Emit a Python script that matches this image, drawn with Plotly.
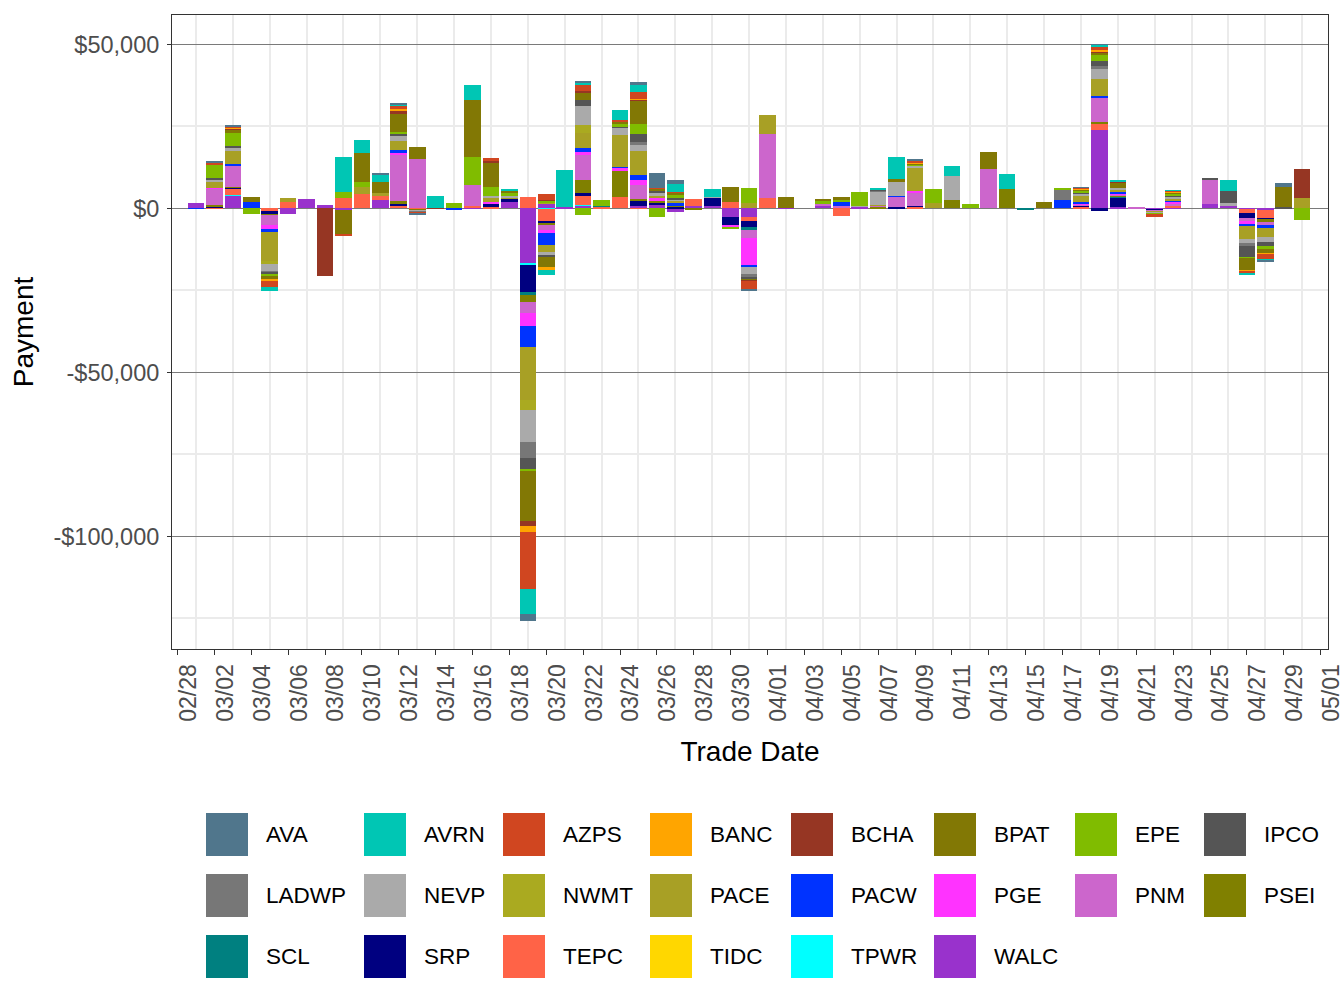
import pandas as pd
import plotly.graph_objects as go

# ---------------- data (payment by trade date, US$) ----------------
SERIES = ["AVA", "AVRN", "AZPS", "BANC", "BCHA", "BPAT", "EPE", "IPCO",
          "LADWP", "NEVP", "NWMT", "PACE", "PACW", "PGE", "PNM", "PSEI",
          "SCL", "SRP", "TEPC", "TIDC", "TPWR", "WALC"]

COLORS = {
    "AVA": "#50768C", "AVRN": "#00C6B4", "AZPS": "#D04620", "BANC": "#FFA500",
    "BCHA": "#963623", "BPAT": "#827805", "EPE": "#80BC00", "IPCO": "#555555",
    "LADWP": "#777777", "NEVP": "#AAAAAA", "NWMT": "#AAAA20", "PACE": "#A8A025",
    "PACW": "#0033FF", "PGE": "#FF33FF", "PNM": "#CC66CC", "PSEI": "#808000",
    "SCL": "#008080", "SRP": "#000080", "TEPC": "#FF6347", "TIDC": "#FFD700",
    "TPWR": "#00FFFF", "WALC": "#9932CC",
}

YEAR = 2021
TRADE_DATES = [d.strftime("%m/%d") for d in pd.date_range(f"{YEAR}-03-01", f"{YEAR}-04-30")]

WALC = {"03/01": 1700, "03/03": 3760, "03/06": -1700, "03/07": 2850, "03/08": 1000,
        "03/09": -600, "03/11": 2540, "03/16": 300, "03/18": 1900, "03/19": -16760,
        "03/20": 1400, "03/21": 300, "03/22": 800, "03/25": 800, "03/26": 1000,
        "03/27": -1000, "03/28": 700, "03/29": 700, "03/30": -2540, "03/31": -2640,
        "04/02": 200, "04/04": 700, "04/06": 400, "04/19": 23880, "04/20": 500,
        "04/22": -300, "04/23": 300, "04/25": 1320, "04/26": 700, "04/27": -200,
        "04/28": -500}
TPWR = {"03/03": 300, "03/05": -200, "03/19": -400, "03/20": -200, "03/22": 200,
        "04/04": 200}
TIDC = {}
TEPC = {"03/02": 300, "03/03": 1830, "03/05": -500, "03/06": 2000, "03/09": 3050,
        "03/10": 4370, "03/11": 1420, "03/12": 700, "03/13": -300, "03/16": 300,
        "03/17": 500, "03/19": 3450, "03/20": -3560, "03/22": 2740, "03/23": 400,
        "03/24": 3450, "03/25": -200, "03/28": 2130, "03/30": 2030, "03/31": -1220,
        "04/01": 3250, "04/05": -2340, "04/09": 500, "04/18": 500, "04/19": 1830,
        "04/23": 400, "04/27": -1220, "04/28": -2640}
SRP = {"03/02": 300, "03/03": 400, "03/05": -1100, "03/12": 900, "03/17": 800,
       "03/18": 800, "03/19": -8640, "03/20": -800, "03/22": 800, "03/25": 1700,
       "03/26": 800, "03/27": 400, "03/29": 2540, "03/30": -2840, "03/31": -2130,
       "04/08": 400, "04/09": 300, "04/18": 300, "04/19": -700, "04/20": 2640,
       "04/22": -300, "04/23": 300, "04/26": 300, "04/27": -1520, "04/28": -400}
SCL = {"03/13": -200, "03/19": -600, "03/23": 300, "03/31": -600, "04/15": -500,
       "04/20": 600}
PSEI = {"03/02": 300, "03/03": 300, "03/05": -200, "03/12": 600, "03/13": -300,
        "03/19": -2030, "03/20": -600, "03/22": 4060, "03/24": 7920, "03/25": 400,
        "03/26": 500, "03/27": 400, "03/28": -400, "04/07": 500, "04/11": 2540,
        "04/14": 5890, "04/19": 600, "04/20": 300, "04/28": -600}
PNM = {"03/02": 5100, "03/03": 6600, "03/05": -3000, "03/12": 14020, "03/13": 15040,
       "03/16": 6400, "03/19": -3560, "03/20": -1730, "03/22": 7620, "03/25": 4160,
       "03/31": -2340, "04/01": 19400, "04/04": 300, "04/05": 700, "04/07": 300,
       "04/08": 3050, "04/09": 4060, "04/13": 11990, "04/18": 300, "04/19": 7320,
       "04/20": 300, "04/21": 400, "04/22": -300, "04/23": 300, "04/25": 7320,
       "04/27": -800, "04/28": -1120}
PGE = {"03/02": 300, "03/05": -1200, "03/12": 900, "03/17": 700, "03/19": -3860,
       "03/20": -500, "03/22": 900, "03/24": 1020, "03/25": 1520, "03/26": 900,
       "03/30": -500, "03/31": -8640, "04/09": 400, "04/18": 400, "04/19": 300,
       "04/20": 200, "04/23": 800, "04/27": -900}
PACW = {"03/01": -200, "03/03": 400, "03/04": 1930, "03/05": -900, "03/12": 600,
        "03/15": -500, "03/19": -6400, "03/20": -3760, "03/22": 1220, "03/24": 300,
        "03/25": 1520, "03/27": 1000, "03/31": -300, "04/05": 1220, "04/08": 300,
        "04/17": 2540, "04/18": 400, "04/19": 200, "04/20": 300, "04/23": 300,
        "04/27": -800, "04/28": -600}
PACE = {"03/02": 1700, "03/03": 4170, "03/05": -9000, "03/06": 1100, "03/10": 2030,
        "03/11": 600, "03/12": 2740, "03/17": 1400, "03/18": 700, "03/19": -16150,
        "03/20": -2030, "03/22": 4470, "03/24": 9650, "03/25": 7520, "03/26": 700,
        "03/27": 500, "03/31": 1520, "04/01": 5790, "04/07": 300, "04/09": 7210,
        "04/10": 1520, "04/18": 1830, "04/19": 5180, "04/20": 800, "04/22": -500,
        "04/23": 600, "04/27": -4060, "04/28": -2940, "04/30": 3150}
NWMT = {"03/05": -1000, "03/19": -3050, "03/20": 300, "03/22": 2540}
NEVP = {"03/02": 900, "03/03": 500, "03/05": -2100, "03/12": 1630, "03/13": -300,
        "03/17": 500, "03/18": 300, "03/19": -9750, "03/20": -1000, "03/22": 5790,
        "03/24": 2240, "03/25": 1830, "03/26": 1000, "03/27": 500, "03/29": 300,
        "03/31": -2130, "04/06": 300, "04/07": 4060, "04/08": 4270, "04/09": 500,
        "04/11": 7320, "04/18": 700, "04/19": 3450, "04/20": 500, "04/22": -300,
        "04/23": 500, "04/26": 500, "04/27": -1220, "04/28": -1420}
LADWP = {"03/05": -400, "03/13": -300, "03/19": -4880, "03/25": 700, "03/31": -800,
         "04/07": 300, "04/17": 3050, "04/19": 600, "04/27": -900}
IPCO = {"03/02": 300, "03/03": 700, "03/05": -500, "03/12": 700, "03/19": -3660,
        "03/20": -800, "03/22": 2030, "03/24": 300, "03/25": 2440, "03/26": 400,
        "03/27": 300, "03/31": -800, "04/07": 300, "04/18": 300, "04/19": 1520,
        "04/23": 500, "04/25": 600, "04/26": 3760, "04/27": -3250, "04/28": -1420,
        "04/29": 300}
EPE = {"03/02": 4000, "03/03": 4060, "03/04": -1730, "03/05": -600, "03/09": 1930,
       "03/10": 1630, "03/12": 400, "03/15": 1630, "03/16": 8530, "03/17": 2540,
       "03/18": 1100, "03/19": -300, "03/20": 600, "03/22": -2030, "03/23": 1700,
       "03/24": 800, "03/25": 3050, "03/26": -2540, "03/27": 1200, "03/30": -400,
       "03/31": 4780, "04/04": 1320, "04/05": 900, "04/06": 4270, "04/08": 200,
       "04/09": 500, "04/10": 4370, "04/12": 1320, "04/17": 600, "04/18": 700,
       "04/19": 1830, "04/22": -300, "04/23": 400, "04/27": -400, "04/28": -700,
       "04/30": -3560}
BPAT = {"03/03": 1000, "03/04": 1520, "03/05": -900, "03/09": -7500, "03/10": 8840,
        "03/11": 3560, "03/12": 5790, "03/13": 3660, "03/16": 17370, "03/17": 7620,
        "03/18": 500, "03/19": -15240, "03/20": -3050, "03/22": 2240, "03/24": 700,
        "03/25": 7210, "03/26": 600, "03/27": 400, "03/30": 4570, "03/31": -400,
        "04/02": 3150, "04/04": 300, "04/05": 600, "04/08": 600, "04/09": 300,
        "04/13": 5180, "04/16": 1930, "04/18": 400, "04/19": 700, "04/20": 1830,
        "04/23": 300, "04/27": -3560, "04/28": -1320, "04/29": 6100}
BCHA = {"03/02": 300, "03/03": 300, "03/08": -20600, "03/12": 600, "03/14": -200,
        "03/17": 600, "03/19": -1520, "03/20": 300, "03/22": 400, "03/25": 300,
        "03/31": -300, "04/19": 500, "04/20": 300, "04/30": 8840}
BANC = {"03/03": 200, "03/05": -600, "03/12": 700, "03/19": -1830, "03/20": -700,
        "03/25": 300, "04/09": 300, "04/18": 200, "04/19": 300, "04/23": 300,
        "04/27": -300, "04/28": -300}
AZPS = {"03/02": 600, "03/03": 500, "03/05": -1700, "03/09": -300, "03/12": 800,
        "03/13": -200, "03/17": 600, "03/18": 200, "03/19": -17370, "03/20": 1630,
        "03/22": 2030, "03/24": 500, "03/25": 1930, "03/26": 400, "03/27": 300,
        "03/31": -2540, "04/09": 600, "04/18": 200, "04/19": 1220, "04/22": -500,
        "04/23": 300, "04/27": -600, "04/28": -1520}
AVRN = {"03/05": -1300, "03/09": 10670, "03/10": 3960, "03/11": 2240, "03/12": 700,
        "03/14": 3760, "03/16": 4570, "03/18": 200, "03/19": -7620, "03/20": -1520,
        "03/21": 11380, "03/22": 400, "03/24": 3050, "03/25": 2340, "03/27": 2340,
        "03/29": 2340, "04/07": 400, "04/08": 6700, "04/11": 3050, "04/14": 4570,
        "04/19": 400, "04/20": 300, "04/23": 200, "04/26": 3350, "04/27": -700,
        "04/28": -500}
AVA = {"03/02": 300, "03/03": 300, "03/11": 200, "03/12": 200, "03/13": -300,
       "03/19": -2340, "03/22": 500, "03/25": 700, "03/26": 4370, "03/27": 1220,
       "03/31": -300, "04/09": 300, "04/18": 200, "04/19": 200, "04/28": -500,
       "04/29": 1320}

PAYMENTS = {"AVA": AVA, "AVRN": AVRN, "AZPS": AZPS, "BANC": BANC, "BCHA": BCHA,
            "BPAT": BPAT, "EPE": EPE, "IPCO": IPCO, "LADWP": LADWP, "NEVP": NEVP,
            "NWMT": NWMT, "PACE": PACE, "PACW": PACW, "PGE": PGE, "PNM": PNM,
            "PSEI": PSEI, "SCL": SCL, "SRP": SRP, "TEPC": TEPC, "TIDC": TIDC,
            "TPWR": TPWR, "WALC": WALC}

Y_TICKS = [-100000, -50000, 0, 50000]
Y_TICK_LABELS = ["-$100,000", "-$50,000", "$0", "$50,000"]
Y_MINOR = [-125000, -75000, -25000, 25000]

# ---------------- figure ----------------
W, H = 1344, 1008
PL, PR, PT, PB = 172, 1328, 15, 649          # panel edges in pixels
DAY_MS = 86400000

x_dates = pd.to_datetime([f"{YEAR}/{d}" for d in TRADE_DATES])

fig = go.Figure()
# first trace sits next to zero (ggplot stacks first factor level farthest out)
for name in reversed(SERIES):
    vals = PAYMENTS[name]
    fig.add_trace(go.Bar(
        x=x_dates,
        y=[vals.get(d) for d in TRADE_DATES],
        name=name,
        width=0.9 * DAY_MS,
        marker=dict(color=COLORS[name], line=dict(width=0)),
        showlegend=False,
    ))

FONT = "Liberation Sans, Arial, Helvetica, sans-serif"

fig.update_layout(
    width=W, height=H,
    margin=dict(l=PL, r=W - PR, t=PT, b=H - PB, pad=0),
    barmode="relative",
    bargap=0,
    paper_bgcolor="white",
    plot_bgcolor="white",
    font=dict(family=FONT, color="black"),
)

fig.update_xaxes(
    type="date",
    range=[f"{YEAR}-02-27 16:48", f"{YEAR}-05-01 09:36"],
    tick0=f"{YEAR}-02-28", dtick=2 * DAY_MS, tickformat="%m/%d",
    tickangle=-90, ticklabelshift=11, ticklabeloverflow="allow",
    ticks="outside", ticklen=5, tickwidth=1, tickcolor="#333333",
    tickfont=dict(size=23, color="#4D4D4D", family=FONT),
    showgrid=False,
    minor=dict(tick0=f"{YEAR}-03-01", dtick=2 * DAY_MS, showgrid=True,
               gridcolor="#EBEBEB", gridwidth=1.5, ticks=""),
    showline=True, linecolor="#333333", linewidth=1, mirror=True,
    zeroline=False,
    title=dict(text="Trade Date", font=dict(size=28, color="black", family=FONT),
               standoff=20),
    automargin=False,
)

fig.update_yaxes(
    range=[-(PB - 208.3) / 3.28 * 1000, (208.3 - PT) / 3.28 * 1000],
    tickvals=Y_TICKS, ticktext=Y_TICK_LABELS,
    ticks="outside", ticklen=4, tickwidth=1, tickcolor="#333333",
    ticklabelstandoff=3,
    tickfont=dict(size=23.5, color="#4D4D4D", family=FONT),
    showgrid=True, gridcolor="#7A7A7A", gridwidth=1,
    minor=dict(tickvals=Y_MINOR, showgrid=True, gridcolor="#EBEBEB",
               gridwidth=1.5, ticks=""),
    showline=True, linecolor="#333333", linewidth=1, mirror=True,
    zeroline=False,
    title=dict(text="Payment", font=dict(size=28, color="black", family=FONT),
               standoff=11),
    automargin=False,
)

# ---------------- legend (ggplot-style key grid below the panel) ----------------
LEG_COL_X = [206, 364, 503, 650, 791, 934, 1075, 1204]   # swatch left edges, px
LEG_ROW_TOP = [813, 874, 935]                            # swatch tops, px
SW, SH, TXT_OFF = 42, 43, 58


def px_x(px):
    return (px - PL) / (PR - PL)


def px_y(py):
    return (PB - py) / (PB - PT)


for i, name in enumerate(SERIES):
    r, c = divmod(i, len(LEG_COL_X))
    x0 = LEG_COL_X[c]
    y0 = LEG_ROW_TOP[r]
    fig.add_shape(type="rect", xref="paper", yref="paper",
                  x0=px_x(x0), x1=px_x(x0 + SW), y0=px_y(y0 + SH), y1=px_y(y0),
                  fillcolor=COLORS[name], line=dict(width=0), layer="above")
    fig.add_annotation(xref="paper", yref="paper", x=px_x(x0 + TXT_OFF),
                       y=px_y(y0 + SH / 2), text=name, showarrow=False,
                       xanchor="left", yanchor="middle",
                       font=dict(size=22.5, color="black", family=FONT))

fig.write_html("out.html")
